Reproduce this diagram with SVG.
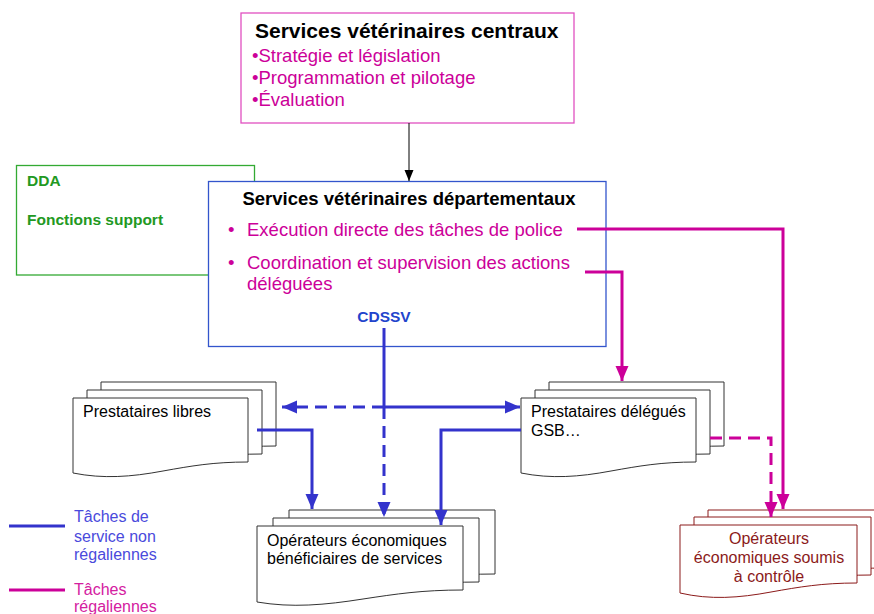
<svg xmlns="http://www.w3.org/2000/svg" width="874" height="614" viewBox="0 0 874 614">
<style>
text{font-family:"Liberation Sans",Arial,sans-serif}
.b{font-weight:bold}
.pk{fill:#cc0099}
.sheet{fill:#fff;stroke:#333;stroke-width:1}
.sheetr{fill:#fff;stroke:#8b1a1a;stroke-width:1}
.bl{fill:none;stroke:#3333cc;stroke-width:3}
.pl{fill:none;stroke:#cc0099;stroke-width:3}
.dash{stroke-dasharray:12 7}
</style>
<defs>
<marker id="ab" markerUnits="userSpaceOnUse" markerWidth="16" markerHeight="16" viewBox="0 0 16 16" refX="15" refY="8" orient="auto"><path d="M0,1.5 L15,8 L0,14.5 Z" fill="#3333cc"/></marker>
<marker id="ap" markerUnits="userSpaceOnUse" markerWidth="16" markerHeight="16" viewBox="0 0 16 16" refX="15" refY="8" orient="auto"><path d="M0,1.5 L15,8 L0,14.5 Z" fill="#cc0099"/></marker>
<marker id="ak" markerUnits="userSpaceOnUse" markerWidth="12" markerHeight="12" viewBox="0 0 12 12" refX="11" refY="6" orient="auto"><path d="M0,1.5 L11,6 L0,10.5 Z" fill="#000"/></marker>
<path id="docP" d="M0,0 H175 V64 C140,64 118,68 90,73 C58,79 30,81 0,75 Z"/>
<path id="docO" d="M0,0 H206 V64 C165,64 139,68 106,73 C68,79 35,82 0,76 Z"/>
<path id="docS" d="M0,0 H177 V58 C142,58 119,62 91,67 C59,73 30,75 0,68 Z"/>
</defs>

<g id="svc-centraux">
<rect x="241" y="13" width="333" height="110" fill="#fff" stroke="#e050c0" stroke-width="1.3"/>
<text x="255" y="38" class="b" font-size="21">Services vétérinaires centraux</text>
<text x="252" y="62" class="pk" font-size="18.5">•Stratégie et législation</text>
<text x="252" y="84" class="pk" font-size="18.5">•Programmation et pilotage</text>
<text x="252" y="106" class="pk" font-size="18.5">•Évaluation</text>
</g>

<g id="dda">
<rect x="16.5" y="165.5" width="238" height="109.5" fill="#fff" stroke="#33aa33" stroke-width="1.3"/>
<text x="27" y="186" class="b" font-size="15.5" fill="#229922">DDA</text>
<text x="27" y="225" class="b" font-size="15.5" fill="#229922">Fonctions support</text>
</g>

<g id="svc-departementaux">
<rect x="208.5" y="181.5" width="397.5" height="165" fill="#fff" stroke="#3355cc" stroke-width="1.3"/>
<text x="409" y="205" text-anchor="middle" class="b" font-size="18.5">Services vétérinaires départementaux</text>
<text x="228" y="236" class="pk" font-size="18.5">•</text>
<text x="247" y="236" class="pk" font-size="18.5">Exécution directe des tâches de police</text>
<text x="228" y="269" class="pk" font-size="18.5">•</text>
<text x="247" y="269" class="pk" font-size="18.5">Coordination et supervision des actions</text>
<text x="247" y="290" class="pk" font-size="18.5">déléguées</text>
<text x="384" y="322" text-anchor="middle" class="b" font-size="15.5" fill="#2244cc">CDSSV</text>
</g>

<g id="prestataires-libres">
<use href="#docP" x="101" y="382" class="sheet"/>
<use href="#docP" x="87" y="390" class="sheet"/>
<use href="#docP" x="73" y="398" class="sheet"/>
<text x="83" y="417" font-size="16">Prestataires libres</text>
</g>

<g id="prestataires-delegues">
<use href="#docP" x="549" y="382" class="sheet"/>
<use href="#docP" x="535" y="390" class="sheet"/>
<use href="#docP" x="521" y="398" class="sheet"/>
<text x="531" y="417" font-size="16">Prestataires délégués</text>
<text x="531" y="436" font-size="16">GSB…</text>
</g>

<g id="operateurs-beneficiaires">
<use href="#docO" x="289" y="510" class="sheet"/>
<use href="#docO" x="273" y="518" class="sheet"/>
<use href="#docO" x="257" y="526" class="sheet"/>
<text x="267" y="546" font-size="16">Opérateurs économiques</text>
<text x="267" y="564" font-size="16">bénéficiaires de services</text>
</g>

<g id="operateurs-soumis">
<use href="#docS" x="708" y="510" class="sheetr"/>
<use href="#docS" x="694" y="517" class="sheetr"/>
<use href="#docS" x="680" y="525" class="sheetr"/>
<text x="769" y="544" text-anchor="middle" font-size="16" fill="#8b1a1a">Opérateurs</text>
<text x="769" y="563" text-anchor="middle" font-size="16" fill="#8b1a1a">économiques soumis</text>
<text x="769" y="582" text-anchor="middle" font-size="16" fill="#8b1a1a">à contrôle</text>
</g>

<g id="connectors">
<path d="M409,123 V181" fill="none" stroke="#000" stroke-width="1" marker-end="url(#ak)"/>
<path d="M577,229 H783 V509" class="pl" marker-end="url(#ap)"/>
<path d="M585,272 H622 V381" class="pl" marker-end="url(#ap)"/>
<path d="M710,438 H771 V517" class="pl dash" marker-end="url(#ap)"/>
<path d="M384,328 V407" class="bl"/>
<path d="M384,407 V517" class="bl dash" marker-end="url(#ab)"/>
<path d="M384,407 H520" class="bl" marker-end="url(#ab)"/>
<path d="M384,407 H282" class="bl dash" marker-end="url(#ab)"/>
<path d="M257,430 H312 V509" class="bl" marker-end="url(#ab)"/>
<path d="M521,430 H441 V525" class="bl" marker-end="url(#ab)"/>
</g>

<g id="legend">
<path d="M9,526 H65" class="bl"/>
<text x="74" y="522" font-size="16" fill="#4a4adc">Tâches de</text>
<text x="74" y="542" font-size="16" fill="#4a4adc">service non</text>
<text x="74" y="560" font-size="16" fill="#4a4adc">régaliennes</text>
<path d="M9,590 H65" class="pl"/>
<text x="74" y="595" font-size="16" fill="#d4209f">Tâches</text>
<text x="74" y="612" font-size="16" fill="#d4209f">régaliennes</text>
</g>
</svg>
